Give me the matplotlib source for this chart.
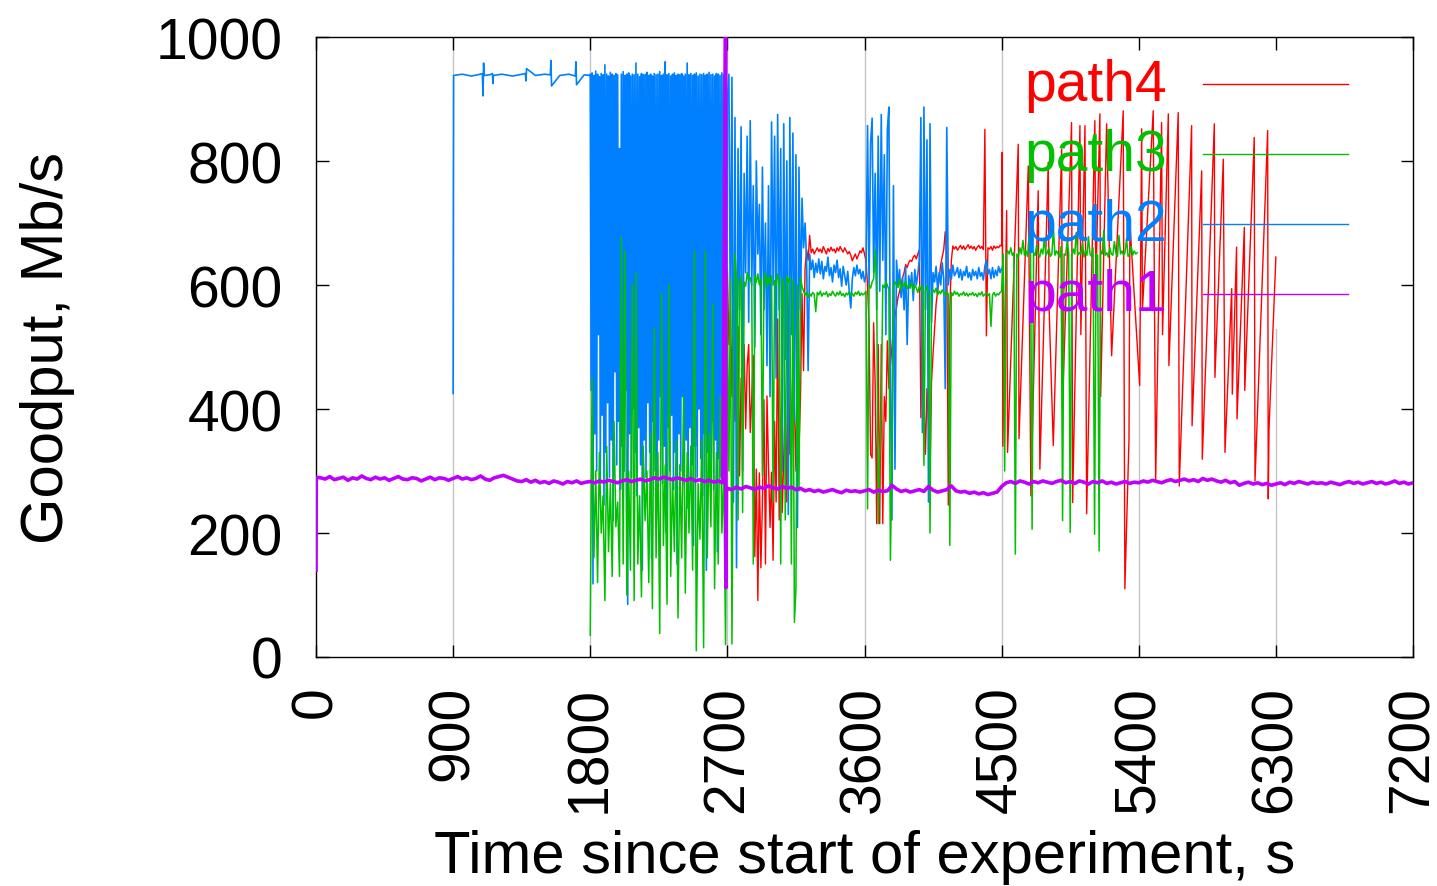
#!/usr/bin/env python3
"""Goodput of four paths over a two-hour experiment (gnuplot-style replot)."""

import matplotlib

matplotlib.use("Agg")
import matplotlib.pyplot as plt
import numpy as np

plt.rcParams["font.family"] = ["Liberation Sans", "DejaVu Sans"]

COLORS = {"path4": "#ff0000", "path3": "#00c000", "path2": "#0080ff", "path1": "#c000ff"}
X_TICKS = [0, 900, 1800, 2700, 3600, 4500, 5400, 6300, 7200]
Y_TICKS = [0, 200, 400, 600, 800, 1000]

# path1: sampled every 30 s from t=0, plus a few extra samples
PATH1_STEP = 30
PATH1_VALUES = [
    140, 289, 287, 291, 286, 288, 290, 285, 289, 287,
    292, 288, 286, 290, 287, 289, 285, 288, 291, 287,
    286, 289, 288, 284, 287, 290, 286, 289, 288, 285,
    288, 291, 287, 289, 286, 288, 292, 287, 285, 289,
    291, 293, 290, 287, 284, 283, 286, 282, 285, 281,
    283, 280, 284, 282, 279, 283, 281, 284, 280, 282,
    283, 281, 284, 282, 285, 283, 281, 284, 286, 283,
    285, 287, 284, 286, 289, 287, 290, 288, 286, 289,
    287, 285, 288, 284, 286, 283, 285, 282, 284, 281,
    272, 270, 274, 271, 275, 273, 270, 274, 272, 276,
    273, 271, 275, 272, 274, 270, 272, 268, 270, 267,
    269, 266, 268, 270, 267, 265, 269, 267, 268, 266,
    268, 270, 266, 269, 267, 268, 277, 271, 267, 269,
    266, 268, 270, 267, 275, 269, 266, 268, 270, 276,
    268, 266, 267, 264, 266, 263, 265, 262, 264, 266,
    275, 281, 283, 280, 284, 282, 279, 283, 281, 284,
    282, 280, 283, 285, 281, 283, 280, 284, 282, 279,
    283, 281, 284, 280, 282, 279, 281, 283, 280, 282,
    281, 284, 282, 285, 283, 281, 284, 286, 283, 285,
    287, 284, 286, 283, 288, 285, 287, 284, 282, 285,
    281, 283, 277, 280, 282, 279, 281, 278, 280, 277,
    279, 281, 278, 282, 280, 283, 281, 279, 282, 280,
    281, 279, 282, 280, 278, 281, 283, 280, 282, 279,
    281, 283, 280, 282, 279, 281, 284, 280, 282, 279, 281,
]
PATH1_EXTRA_T = [2, 2688, 2691, 2694]
PATH1_EXTRA_V = [290, 1010, 112, 272]

# path2: steady phase (irregular samples), then 6 s and 10 s sampled phases
PATH2_FLAT_T = [900, 903, 960, 1020, 1060, 1092, 1096, 1100, 1104, 1140,
                1158, 1161, 1164, 1220, 1290, 1374, 1378, 1382, 1440, 1500,
                1538, 1542, 1546, 1600, 1660, 1702, 1706, 1710, 1760, 1798]
PATH2_FLAT_V = [425, 938, 940, 937, 939, 941, 905, 958, 938, 939,
                941, 925, 938, 940, 937, 941, 929, 949, 938, 940,
                939, 962, 921, 938, 940, 937, 960, 923, 939, 938]
PATH2_BURST_START, PATH2_BURST_STEP = 1800, 6
PATH2_BURST = [
    940, 430, 942, 118, 938, 360, 945, 300, 940, 520, 936, 280, 941, 390, 939, 245, 955, 330, 940, 410,
    937, 290, 943, 350, 940, 220, 938, 460, 941, 310, 939, 380, 820, 270, 940, 340, 944, 300, 938, 430,
    940, 85, 942, 360, 937, 290, 940, 400, 939, 330, 958, 260, 940, 370, 936, 310, 941, 140, 939, 350,
    940, 290, 943, 410, 938, 330, 940, 160, 937, 380, 941, 300, 939, 250, 940, 350, 944, 420, 938, 280,
    940, 340, 960, 200, 939, 370, 941, 300, 937, 390, 940, 270, 942, 330, 938, 150, 940, 360, 939, 300,
    941, 420, 937, 280, 940, 350, 958, 240, 939, 370, 941, 310, 938, 180, 940, 340, 942, 290, 937, 400,
    940, 320, 939, 260, 941, 360, 938, 140, 940, 330, 943, 300, 939, 380, 940, 270, 937, 350, 941, 170,
    940, 320, 938, 290, 942, 360, 939, 250, 940, 330,
]
PATH2_MID_START, PATH2_MID_STEP = 2700, 10
PATH2_MID = [
    900, 940, 520, 935, 250, 870, 144, 820, 560, 855,
    300, 780, 620, 840, 540, 865, 600, 760, 500, 800,
    650, 730, 520, 790, 560, 700, 470, 760, 420, 863,
    600, 840, 450, 875, 560, 820, 300, 860, 480, 800,
    230, 870, 520, 845, 380, 810, 209, 790, 560, 740,
    660, 700, 640, 462, 650, 625, 640, 612, 635, 620,
    642, 618, 638, 610, 630, 622, 645, 615, 628, 605,
    632, 620, 640, 612, 626, 598, 630, 615, 600, 622,
    590, 563, 610, 628, 615, 632, 618, 625, 610, 622,
    605, 615, 857, 600, 830, 869, 620, 780, 560, 840,
    590, 875, 640, 810, 520, 850, 887, 445, 221, 760,
    303, 640, 600, 625, 580, 612, 560, 630, 504, 615,
    595, 620, 575, 625, 600, 618, 640, 870, 362, 887,
    560, 834, 250, 860, 540, 620, 605, 630, 592, 620,
    600, 636, 610, 433, 854, 600, 625, 610, 632, 615,
    620, 628, 612, 625, 608, 622, 615, 630, 612, 620,
    608, 625, 615, 622, 610, 628, 614, 620, 608, 630,
    640, 618, 625, 610, 628, 612, 624, 615, 630, 620,
    627,
]

# path3
PATH3_BURST_START, PATH3_BURST_STEP = 1800, 12
PATH3_BURST = [
    35, 450, 160, 300, 120, 330, 200, 260, 91, 340, 170, 280, 130, 380, 210, 250,
    130, 677, 150, 655, 100, 300, 140, 600, 91, 620, 150, 260, 97, 340, 220, 300,
    120, 360, 78, 531, 160, 330, 38, 587, 180, 310, 85, 600, 130, 290, 170, 350,
    63, 310, 160, 420, 103, 330, 200, 340, 140, 655, 10, 280, 190, 350, 15, 655,
    160, 360, 210, 570, 110, 330, 150, 420, 200, 300, 20,
]
PATH3_MID_START, PATH3_MID_STEP = 2700, 10
PATH3_MID = [
    560, 300, 610, 21, 480, 651, 610, 221, 600, 615,
    233, 605, 598, 620, 608, 612, 600, 150, 615, 604,
    618, 600, 610, 292, 605, 620, 598, 612, 603, 615,
    250, 607, 600, 618, 605, 150, 610, 600, 221, 615,
    605, 612, 150, 608, 56, 109, 600, 268, 612, 598,
    590, 584, 588, 580, 586, 582, 588, 585, 557, 588,
    584, 590, 582, 587, 585, 589, 581, 586, 583, 590,
    585, 582, 588, 584, 590, 583, 586, 581, 587, 584,
    589, 583, 586, 582, 588, 585, 590, 583, 587, 584,
    586, 590, 239, 600, 595, 605, 610, 657, 598, 215,
    327, 398, 600, 596, 605, 600, 592, 156, 315, 598,
    605, 600, 596, 610, 592, 602, 598, 606, 594, 600,
    596, 604, 590, 600, 595, 588, 598, 592, 600, 309,
    590, 598, 585, 200, 586, 592, 588, 595, 584, 590,
    586, 592, 588, 584, 590, 585, 180, 588, 583, 590,
    585, 588, 582, 586, 584, 589, 583, 587, 582, 586,
    584, 588, 583, 586, 581, 587, 584, 589, 582, 585,
    587, 583, 586, 533, 584, 588, 582, 586, 584, 588,
    590,
]
PATH3_LATE_START, PATH3_LATE_STEP = 4510, 10
PATH3_LATE = [
    650, 300, 648, 655, 650, 660, 648, 652, 166, 650,
    645, 660, 650, 672, 648, 655, 646, 680, 650, 206,
    652, 648, 665, 650, 645, 658, 650, 675, 648, 652,
    660, 646, 650, 690, 648, 655, 650, 645, 662, 220,
    650, 648, 670, 652, 201, 646, 658, 650, 685, 648,
    652, 650, 668, 645, 655, 648, 678, 650, 646, 660,
    198, 650, 648, 171, 655, 650, 688, 648, 652, 645,
    660, 650, 648, 670, 652, 646, 680, 650, 655, 648,
    652, 675, 646, 650, 662, 648, 655, 650, 652,
]

# path4
PATH4_MID_START, PATH4_MID_STEP = 2700, 10
PATH4_MID = [
    622, 504, 560, 420, 600, 380, 480, 533, 292, 450,
    362, 504, 368, 470, 504, 362, 420, 486, 162, 303,
    91, 297, 144, 250, 415, 150, 421, 309, 209, 298,
    156, 380, 250, 545, 221, 386, 233, 327, 415, 250,
    504, 327, 380, 457, 404, 300, 504, 333, 420, 586,
    462, 627, 657, 640, 680, 652, 658, 650, 655, 660,
    654, 658, 652, 662, 656, 650, 659, 654, 661, 655,
    658, 652, 660, 655, 662, 657, 653, 660, 655, 650,
    654, 648, 639, 645, 650, 642, 648, 655, 652, 660,
    650, 639, 600, 533, 327, 321, 539, 440, 215, 504,
    215, 504, 215, 420, 380, 510, 433, 470, 500, 533,
    550, 563, 580, 590, 600, 612, 620, 633, 628, 636,
    640, 638, 645, 648, 642, 650, 657, 386, 600, 420,
    327, 433, 380, 303, 445, 490, 530, 569, 590, 610,
    633, 645, 657, 686, 650, 245, 560, 640, 663, 658,
    662, 656, 660, 664, 658, 663, 657, 661, 665, 659,
    663, 658, 662, 656, 661, 664, 659, 662, 657, 851,
    518, 660, 658, 662, 656, 663, 659, 662, 660, 664,
    663,
]
PATH4_SAW_T = [4504, 4508, 4533, 4539, 4609, 4614, 4675, 4692, 4740, 4751,
               4806, 4812, 4839, 4894, 4899, 4959, 4966, 5014, 5020, 5047,
               5058, 5112, 5118, 5145, 5150, 5189, 5222, 5298, 5309, 5336,
               5342, 5406, 5419, 5424, 5495, 5511, 5550, 5556, 5594, 5598,
               5659, 5666, 5747, 5750, 5813, 5817, 5896, 5900, 5955, 5966,
               6010, 6014, 6042, 6045, 6093, 6096, 6158, 6163, 6246, 6250,
               6255, 6300]
PATH4_SAW_V = [814, 340, 720, 330, 827, 352, 792, 260, 752, 303,
               798, 560, 341, 819, 400, 862, 249, 857, 520, 857,
               231, 865, 600, 876, 420, 860, 486, 881, 110, 352,
               700, 438, 852, 560, 881, 284, 862, 520, 876, 470,
               878, 276, 857, 373, 784, 319, 860, 451, 803, 330,
               594, 424, 661, 384, 693, 430, 838, 284, 849, 255,
               368, 645]


def sampled(start, step, values):
    return start + step * np.arange(len(values)), np.asarray(values, dtype=float)


def joined(*parts):
    t = np.concatenate([np.asarray(p[0], dtype=float) for p in parts])
    v = np.concatenate([np.asarray(p[1], dtype=float) for p in parts])
    order = np.argsort(t, kind="stable")
    return t[order], v[order]


def main():
    path1 = joined(sampled(0, PATH1_STEP, PATH1_VALUES), (PATH1_EXTRA_T, PATH1_EXTRA_V))
    path2 = joined(
        (PATH2_FLAT_T, PATH2_FLAT_V),
        sampled(PATH2_BURST_START, PATH2_BURST_STEP, PATH2_BURST),
        sampled(PATH2_MID_START, PATH2_MID_STEP, PATH2_MID),
    )
    path3 = joined(
        sampled(PATH3_BURST_START, PATH3_BURST_STEP, PATH3_BURST),
        sampled(PATH3_MID_START, PATH3_MID_STEP, PATH3_MID),
        sampled(PATH3_LATE_START, PATH3_LATE_STEP, PATH3_LATE),
    )
    path4 = joined(sampled(PATH4_MID_START, PATH4_MID_STEP, PATH4_MID), (PATH4_SAW_T, PATH4_SAW_V))

    fig = plt.figure(figsize=(14.37, 8.87), dpi=100)
    ax = fig.add_axes([316 / 1437, 1 - 658 / 887, 1097 / 1437, 620 / 887])

    # vertical grid; the key area hides the upper part of the last lines
    key_bottom = (658 - 330) / 620
    for t in X_TICKS[1:-1]:
        ax.axvline(t, ymax=key_bottom if t > 4500 else 1.0, color="#c4c4c4", lw=1.0, zorder=0.5)

    ax.plot(*path4, color=COLORS["path4"], lw=1.0, zorder=2)
    ax.plot(*path2, color=COLORS["path2"], lw=1.2, zorder=3)
    ax.plot(*path3, color=COLORS["path3"], lw=1.1, zorder=4)
    ax.plot(*path1, color=COLORS["path1"], lw=2.6, zorder=5)

    ax.set_xlim(0, 7200)
    ax.set_ylim(0, 1000)
    ax.set_xticks(X_TICKS)
    ax.set_yticks(Y_TICKS)
    ax.tick_params(direction="in", length=9, width=1, top=True, right=True, labelsize=41)
    ax.tick_params(axis="x", pad=20, labelrotation=90)
    ax.tick_params(axis="y", pad=24)
    for spine in ax.spines.values():
        spine.set_linewidth(1.0)

    # key, gnuplot style: right-aligned names with a line sample
    for i, name in enumerate(["path4", "path3", "path2", "path1"]):
        y_line = 85 + 70 * i
        ay = (658 - y_line) / 620
        ab = (658 - y_line - 16) / 620
        ax.text((1167 - 316) / 1097, ab, name, transform=ax.transAxes, ha="right",
                va="baseline", fontsize=41, color=COLORS[name], zorder=6)
        ax.plot([(1203 - 316) / 1097, (1348 - 316) / 1097], [ay, ay], transform=ax.transAxes,
                color=COLORS[name], lw=1.0, zorder=6)

    fig.text(865 / 1437, 1 - 873 / 887, "Time since start of experiment, s", ha="center",
             va="baseline", fontsize=43)
    fig.text(48 / 1437, 1 - 348 / 887, "Goodput, Mb/s", ha="center", va="center",
             rotation=90, fontsize=43)

    fig.savefig("out.png", dpi=100)
    plt.close(fig)


if __name__ == "__main__":
    main()
